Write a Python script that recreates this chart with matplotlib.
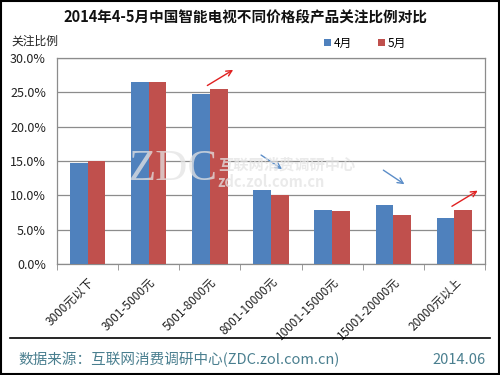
import numpy as np
import matplotlib
matplotlib.use('Agg')
import matplotlib.pyplot as plt

plt.rcParams['font.family'] = ['Noto Sans CJK SC', 'DejaVu Sans']

categories = ['3000元以下', '3001-5000元', '5001-8000元', '8001-10000元',
              '10001-15000元', '15001-20000元', '20000元以上']
april = [14.7, 26.5, 24.7, 10.8, 7.9, 8.6, 6.7]
may = [15.0, 26.5, 25.5, 10.0, 7.75, 7.2, 7.9]
yticks = [0, 5, 10, 15, 20, 25, 30]

blue = '#4F81BD'
red = '#C0504D'
foot = '#4A7F8F'

fig = plt.figure(figsize=(5, 3.75), dpi=100)
ax = fig.add_axes([0.114, 0.296, 0.856, 0.549])

x = np.arange(len(categories))
w = 0.29
ax.bar(x - w / 2, april, w, color=blue, label='4月', zorder=3)
ax.bar(x + w / 2, may, w, color=red, label='5月', zorder=3)

ax.set_xlim(-0.5, len(categories) - 0.5)
ax.set_ylim(0, 30)
ax.set_yticks(yticks)
ax.set_yticklabels([f'{v:.1f}%' for v in yticks], fontsize=9, color='#222222')
ax.yaxis.grid(True, color='#8c8c8c', linewidth=0.9, zorder=0)
ax.tick_params(axis='y', length=0, pad=8)

ax.set_xticks(x)
ax.set_xticklabels(categories, rotation=45, ha='right', rotation_mode='anchor',
                   fontsize=8.5, color='#222222')
ax.set_xticks(np.arange(-0.5, len(categories)), minor=True)
ax.tick_params(axis='x', which='major', length=0, pad=8)
ax.tick_params(axis='x', which='minor', length=4, color='#8c8c8c')
for s in ax.spines.values():
    s.set_color('#8c8c8c')
    s.set_linewidth(0.9)

# trend arrows
arrows = [
    (2, 'up', '#E02020'), (3, 'down', '#5B8DC8'),
    (5, 'down', '#5B8DC8'), (6, 'up', '#E02020'),
]
for i, d, c in arrows:
    top = max(april[i], may[i])
    if d == 'up':
        xy0 = (i - 0.08, top + 0.3)
        xy1 = (i + 0.42, top + 3.0)
    else:
        xy0 = (i - 0.2, top + 5.3)
        xy1 = (i + 0.22, top + 2.8)
    ax.annotate('', xy=xy1, xytext=xy0,
                arrowprops=dict(arrowstyle='->', color=c, lw=1.0), zorder=4)

# watermark
wm = dict(color='#e4e4e4', alpha=0.75, zorder=5)
ax.text(1.40, 13.9, 'ZDC', fontsize=32, family='Liberation Serif',
        ha='center', va='center', **wm)
ax.text(2.13, 14.5, '互联网消费调研中心', fontsize=11, ha='left', va='center',
        fontweight='bold', **wm)
ax.text(2.13, 12.0, 'zdc.zol.com.cn', fontsize=10.5, ha='left', va='center',
        fontweight='bold', **wm)

fig.text(0.49, 0.952, '2014年4-5月中国智能电视不同价格段产品关注比例对比',
         ha='center', va='center', fontsize=10.5, fontweight='bold', color='#111111')
fig.text(0.022, 0.89, '关注比例', ha='left', va='center', fontsize=8.5, color='#222222')

leg = fig.legend(loc='center', bbox_to_anchor=(0.73, 0.885), ncol=2, frameon=False,
                 fontsize=8.5, handlelength=0.6, handleheight=0.6, handletextpad=0.2,
                 columnspacing=2.2)

# footer
fig.add_artist(plt.Line2D([0.02, 0.98], [0.099, 0.099], color='black', lw=1.2,
                          transform=fig.transFigure))
fig.text(0.036, 0.04, '数据来源：互联网消费调研中心(ZDC.zol.com.cn)', ha='left',
         va='center', fontsize=10.5, color=foot)
fig.text(0.972, 0.04, '2014.06', ha='right', va='center', fontsize=10.5, color=foot)

# outer border
fig.add_artist(plt.Rectangle((0.002, 0.003), 0.996, 0.994, fill=False,
                             edgecolor='black', lw=1.5, transform=fig.transFigure))

fig.savefig('out.png', dpi=100)
